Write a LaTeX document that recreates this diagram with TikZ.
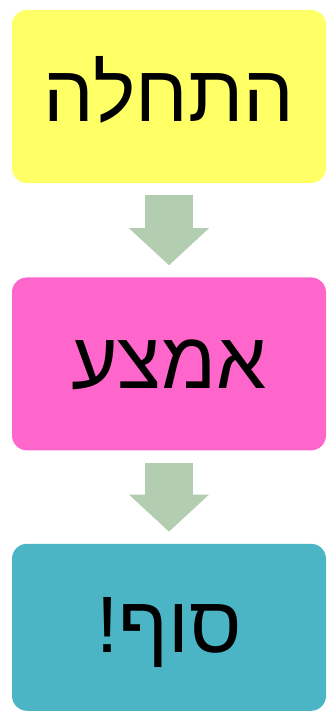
\documentclass[tikz,border=0pt]{standalone}
\usepackage{fontspec}
\newfontfamily\hebfont[Script=Hebrew]{Liberation Sans}
\TeXXeTstate=1
\usetikzlibrary{positioning, arrows.meta}
\definecolor{startyellow}{RGB}{255,255,102}
\definecolor{midpink}{RGB}{255,102,204}
\definecolor{endteal}{RGB}{75,181,197}
\definecolor{flowgreen}{RGB}{179,205,176}
\newcommand{\heb}[1]{{\hebfont\beginR #1\endR}}

\begin{document}
\begin{tikzpicture}[
    x=1pt, y=-1pt,
    stage/.style={
      rectangle, rounded corners=15pt, inner sep=0pt,
      minimum width=314pt, minimum height=173pt,
      text height=50pt, text depth=0pt,
      font=\fontsize{80}{80}\selectfont
    },
    flow/.style={
      draw=flowgreen, line width=48pt,
      shorten <=12pt, shorten >=12pt,
      -{Triangle[width=80pt, length=37pt, line width=0pt]}
    }
  ]
    \useasboundingbox (0,0) rectangle (327,712);

    \node[stage, fill=startyellow] (start)  at (169,96.5)       {\heb{התחלה}};
    \node[stage, fill=midpink]     (middle) [below=94pt of start] {\heb{אמצע}};
    \node[stage, fill=endteal, minimum height=167pt]
                                   (finish) [below=93pt of middle] {\heb{סוף!}};

    \draw[flow] (start)  -- (middle);
    \draw[flow] (middle) -- (finish);
  \end{tikzpicture}
\end{document}
